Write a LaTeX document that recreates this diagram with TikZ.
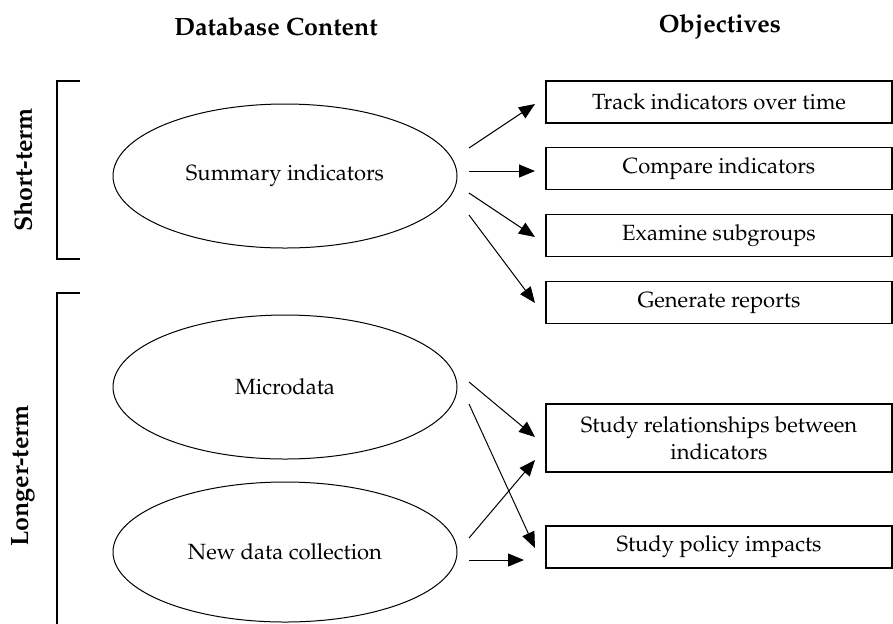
\documentclass[tikz,border=0pt]{standalone}
\usepackage[T1]{fontenc}
\usepackage{mathpazo}
\usetikzlibrary{arrows.meta,shapes.geometric}
\begin{document}
\begin{tikzpicture}[x=0.5pt,y=-0.5pt,
  title/.style={font=\fontsize{12.5}{15}\selectfont\bfseries, inner sep=0pt},
  side/.style={font=\fontsize{12.5}{15}\selectfont\bfseries, rotate=90, inner sep=0pt},
  oval/.style={draw, ellipse, line width=0.5pt, minimum width=172pt, minimum height=72pt, inner sep=0pt, font=\fontsize{11}{13.5}\selectfont},
  objbox/.style={draw, rectangle, line width=0.65pt, minimum width=173pt, minimum height=21pt, inner sep=0pt, align=center, font=\fontsize{11}{13.5}\selectfont},
  arr/.style={line width=0.5pt, -{Triangle[length=8pt,width=6.5pt]}},
  brk/.style={line width=0.6pt}]
\useasboundingbox (0,0) rectangle (893,623);
% titles
\node[title] (t1) at (276,27) {Database Content};
\node[title] (t2) at (720,27) {Objectives};
% side labels
\node[side] (st) at (23,170) {Short-term};
\node[side] (lt) at (23,476) {Longer-term};
% brackets
\coordinate (b1a) at (80,81); \coordinate (b1b) at (57,81);
\coordinate (b1c) at (57,259); \coordinate (b1d) at (80,259);
\draw[brk] (b1a) -- (b1b) -- (b1c) -- (b1d);
\coordinate (b2a) at (80,293); \coordinate (b2b) at (57,293);
\coordinate (b2c) at (57,630);
\draw[brk] (b2a) -- (b2b) -- (b2c);
% ellipses
\node[oval] (sum) at (285,176) {Summary indicators};
\node[oval] (mic) at (285,387) {Microdata};
\node[oval, minimum height=70pt] (new) at (285,552) {New data collection};
% boxes
\node[objbox] (o1) at (719,102) {Track indicators over time};
\node[objbox] (o2) at (719,168.5) {Compare indicators};
\node[objbox] (o3) at (719,235.5) {Examine subgroups};
\node[objbox] (o4) at (719,302.5) {Generate reports};
\node[objbox, minimum height=34pt] (o5) at (719,438) {Study relationships between\\indicators};
\node[objbox] (o6) at (719,547) {Study policy impacts};
% arrow ends
\coordinate (s1) at (469,148); \coordinate (e1) at (535,104);
\coordinate (s2) at (469,171); \coordinate (e2) at (535,171);
\coordinate (s3) at (469,193); \coordinate (e3) at (535,237);
\coordinate (s4) at (469,215); \coordinate (e4) at (535,303);
\coordinate (s5) at (469,382); \coordinate (e5) at (535,437);
\coordinate (s6) at (469,404); \coordinate (e6) at (535,548);
\coordinate (s7) at (469,538); \coordinate (e7) at (535,460);
\coordinate (s8) at (469,560); \coordinate (e8) at (524,560);
\draw[arr] (s1) -- (e1);
\draw[arr] (s2) -- (e2);
\draw[arr] (s3) -- (e3);
\draw[arr] (s4) -- (e4);
\draw[arr] (s5) -- (e5);
\draw[arr] (s6) -- (e6);
\draw[arr] (s7) -- (e7);
\draw[arr] (s8) -- (e8);
\end{tikzpicture}
\end{document}
